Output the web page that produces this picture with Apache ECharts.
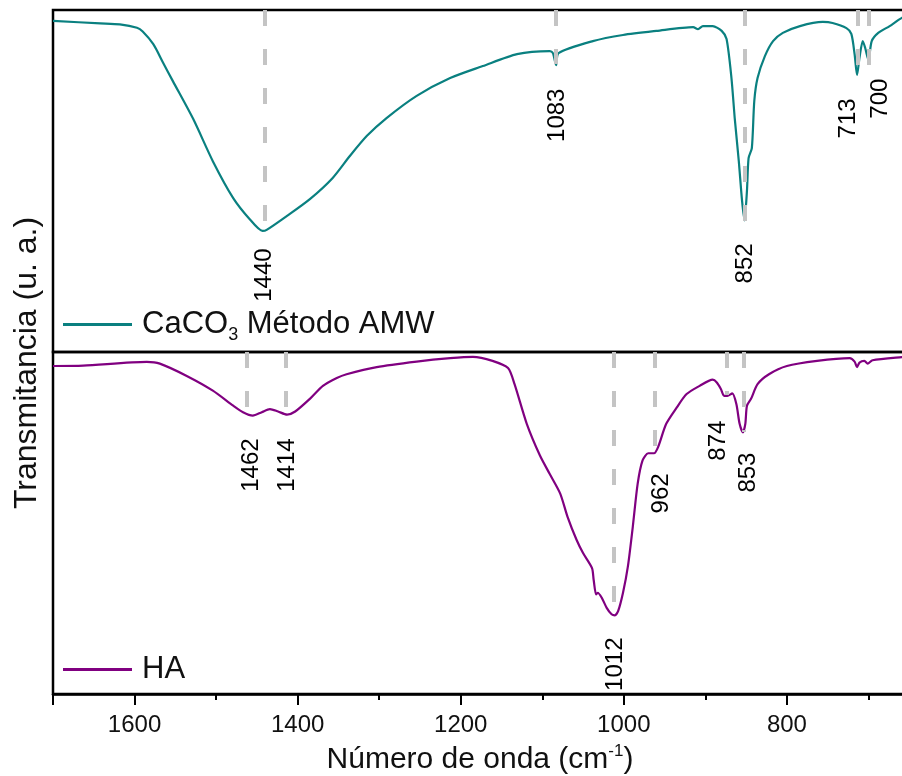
<!DOCTYPE html>
<html>
<head>
<meta charset="utf-8">
<script src="https://cdn.jsdelivr.net/npm/echarts@6/dist/echarts.min.js"></script>
<style>
  html, body { margin: 0; padding: 0; background: #fff; }
  #main { width: 902px; height: 776px; }
</style>
</head>
<body>
<div id="main"></div>
<script>
// FTIR spectra, wavenumber (cm-1) vs transmittance (a.u.)
const caWave = [1700, 1642, 1618, 1597, 1590, 1577, 1565, 1553, 1528, 1504, 1479, 1459, 1443, 1438, 1413, 1385,
  1357, 1336, 1315, 1291, 1254, 1213, 1173, 1131, 1091, 1087, 1083, 1080, 1038, 1001, 960, 915, 909, 903, 891,
  880, 874, 868, 864, 859, 855, 852, 849, 847, 843, 840, 836, 827, 817, 805, 784, 756, 744, 727, 721, 717, 714,
  711, 707, 704, 700, 696, 688, 674, 659, 650];
const caTrans = [96.8, 96.1, 95.8, 94.8, 93.7, 90.0, 84.6, 79.2, 68.1, 55.8, 45.0, 38.9, 35.4, 35.7, 39.8, 44.7,
  50.9, 57.3, 63.2, 68.4, 74.9, 80.1, 83.6, 87.1, 88.0, 87.4, 83.9, 87.4, 90.9, 92.7, 93.9, 95.0, 94.4, 95.3, 95.3,
  93.9, 91.5, 80.1, 68.4, 55.8, 44.2, 38.5, 47.1, 56.7, 59.6, 73.4, 80.1, 86.5, 90.9, 93.3, 95.3, 96.5, 96.2, 94.7,
  93.0, 87.1, 81.0, 86.0, 90.9, 88.9, 85.4, 90.9, 93.3, 95.3, 97.7, 98.2];

const haWave = [1700, 1663, 1585, 1569, 1536, 1504, 1479, 1467, 1455, 1444, 1434, 1424, 1413, 1403, 1385, 1369,
  1352, 1340, 1303, 1254, 1213, 1185, 1161, 1142, 1134, 1119, 1103, 1091, 1078, 1069, 1058, 1050, 1039, 1037,
  1034, 1032, 1027, 1021, 1015, 1011, 1007, 1001, 995, 989, 983, 977, 970, 963, 958, 948, 935, 923, 907, 891,
  886, 881, 877, 873, 867, 862, 858, 854, 851, 849, 844, 836, 822, 800, 763, 723, 717, 714, 711, 705, 701, 695,
  659, 650];
const haTrans = [95.9, 96.0, 97.1, 96.6, 93.0, 88.7, 84.3, 82.4, 81.4, 82.4, 83.3, 82.6, 81.7, 82.6, 86.3, 90.1,
  92.4, 93.5, 95.6, 97.2, 98.2, 98.6, 97.4, 95.3, 90.6, 79.0, 69.8, 64.4, 58.6, 51.8, 45.1, 41.2, 36.8, 33.4,
  29.1, 29.6, 28.1, 25.2, 23.3, 23.0, 24.2, 29.6, 37.3, 48.9, 61.5, 68.3, 70.4, 70.4, 72.2, 79.0, 83.8, 87.7,
  90.1, 91.9, 91.1, 89.2, 87.2, 87.2, 87.9, 84.8, 79.0, 76.5, 79.0, 84.3, 86.3, 90.6, 93.5, 95.9, 97.4, 98.2,
  97.2, 95.6, 96.9, 97.4, 96.6, 97.6, 98.5, 98.6];

// marked bands: position and the depth where the guide line stops
const caPeaks = [1440, 1083, 852, 713, 700];
const caPeakDepth = [35.7, 84.2, 35.7, 82.5, 83.0];
const haPeaks = [1462, 1414, 1012, 962, 874, 853];
const haPeakDepth = [81.6, 81.9, 22.8, 70.5, 87.4, 76.6];

// label nudges in px [dx, dy] below the guide end
const caNudge = [[-1, 18], [1, 24], [1, 13], [-9, 28], [12, 10]];
const haNudge = [[4, 23], [1, 24], [1, 21], [7, 20], [-8, 25], [5, 20]];

const caName = 'CaCO3 Método AMW';
const haName = 'HA';
const TEAL = '#0a8080';
const PURPLE = '#800080';
const FONT = 'Liberation Sans, Arial, sans-serif';

const zip = (a, b) => a.map((v, i) => [v, b[i]]);

function guides(peaks, depth) {
  return {
    silent: true,
    symbol: ['none', 'none'],
    animation: false,
    label: { show: false },
    lineStyle: { color: '#c4c4c4', width: 4, type: [16, 23], opacity: 1 },
    emphasis: { disabled: true },
    data: peaks.map((w, i) => [{ coord: [w, 100] }, { coord: [w, depth[i]] }])
  };
}

function peakLabels(peaks, depth, nudge, axisIdx) {
  return {
    type: 'scatter',
    xAxisIndex: axisIdx,
    yAxisIndex: axisIdx,
    symbolSize: 1,
    silent: true,
    itemStyle: { color: 'rgba(0,0,0,0)' },
    z: 5,
    data: peaks.map((w, i) => ({
      value: [w, depth[i]],
      // offset is applied in the rotated frame
      label: { offset: [-nudge[i][1], nudge[i][0]] }
    })),
    label: {
      show: true,
      position: 'bottom',
      distance: 0,
      rotate: 90,
      align: 'right',
      verticalAlign: 'middle',
      fontSize: 24,
      fontFamily: FONT,
      color: '#000',
      opacity: 1,
      formatter: p => String(p.value[0])
    }
  };
}

const chart = echarts.init(document.getElementById('main'));

const xBase = {
  type: 'value',
  inverse: true,
  min: 600,
  max: 1700,
  interval: 200,
  splitLine: { show: false }
};
const yBase = {
  type: 'value',
  min: 0,
  max: 100,
  axisLine: { show: false },
  axisTick: { show: false },
  axisLabel: { show: false },
  splitLine: { show: false }
};

chart.setOption({
  backgroundColor: '#fff',
  animation: false,
  textStyle: { fontFamily: FONT },
  grid: [
    { left: 53, right: -48, top: 10, height: 342, show: true, borderColor: '#000', borderWidth: 2.5,
      outerBoundsMode: 'none', containLabel: false },
    { left: 53, right: -48, top: 352, height: 342, show: true, borderColor: '#000', borderWidth: 2.5,
      outerBoundsMode: 'none', containLabel: false }
  ],
  xAxis: [
    Object.assign({}, xBase, {
      gridIndex: 0,
      axisLine: { show: false },
      axisTick: { show: false },
      axisLabel: { show: false }
    }),
    Object.assign({}, xBase, {
      gridIndex: 1,
      axisLine: { show: true, lineStyle: { color: '#000', width: 2.5 } },
      axisTick: { show: true, length: 11, lineStyle: { color: '#000', width: 2 } },
      minorTick: { show: true, splitNumber: 2, length: 6, lineStyle: { color: '#000', width: 2 } },
      axisLabel: {
        show: true, fontSize: 24, color: '#111', margin: 19, fontFamily: FONT,
        showMaxLabel: false, showMinLabel: true,
        formatter: v => String(v)
      }
    })
  ],
  yAxis: [
    Object.assign({}, yBase, { gridIndex: 0 }),
    Object.assign({}, yBase, { gridIndex: 1 })
  ],
  legend: [
    {
      data: [caName],
      left: 63,
      top: 309,
      padding: 0,
      icon: 'rect',
      itemWidth: 69,
      itemHeight: 3,
      selectedMode: false,
      textStyle: {
        fontSize: 31, color: '#111', fontFamily: FONT, padding: [0, 0, 0, 5],
        rich: { sub: { fontSize: 18, color: '#111', fontFamily: FONT, padding: [22, 0, 0, 0] } }
      },
      formatter: () => 'CaCO{sub|3} Método AMW'
    },
    {
      data: [haName],
      left: 63,
      top: 654,
      padding: 0,
      icon: 'rect',
      itemWidth: 69,
      itemHeight: 3,
      selectedMode: false,
      textStyle: { fontSize: 31, color: '#111', fontFamily: FONT, padding: [0, 0, 0, 5] }
    }
  ],
  graphic: [
    {
      type: 'text',
      x: 27,
      y: 363,
      rotation: Math.PI / 2,
      style: {
        text: 'Transmitancia (u. a.)',
        font: '32px ' + FONT,
        fill: '#111',
        align: 'center',
        verticalAlign: 'middle'
      }
    },
    {
      type: 'text',
      x: 480,
      y: 760,
      style: {
        text: 'Número de onda (cm{sup|-1})',
        font: '30px ' + FONT,
        fill: '#111',
        align: 'center',
        verticalAlign: 'middle',
        rich: {
          sup: { font: '17px ' + FONT, fill: '#111', padding: [0, 0, 18, 0] }
        }
      }
    }
  ],
  series: [
    {
      name: caName,
      type: 'line',
      xAxisIndex: 0,
      yAxisIndex: 0,
      data: zip(caWave, caTrans),
      smooth: 0.25,
      showSymbol: false,
      color: TEAL,
      lineStyle: { color: TEAL, width: 2.2 },
      z: 3,
      markLine: guides(caPeaks, caPeakDepth)
    },
    {
      name: haName,
      type: 'line',
      xAxisIndex: 1,
      yAxisIndex: 1,
      data: zip(haWave, haTrans),
      smooth: 0.25,
      showSymbol: false,
      color: PURPLE,
      lineStyle: { color: PURPLE, width: 2.2 },
      z: 3,
      markLine: guides(haPeaks, haPeakDepth)
    },
    peakLabels(caPeaks, caPeakDepth, caNudge, 0),
    peakLabels(haPeaks, haPeakDepth, haNudge, 1)
  ]
});
</script>
</body>
</html>
